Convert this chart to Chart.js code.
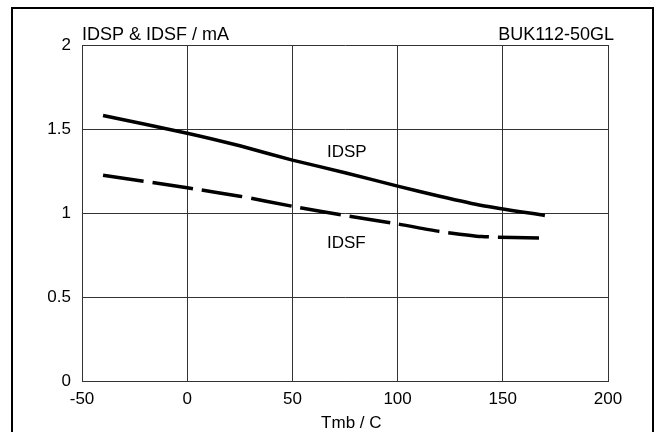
<!DOCTYPE html>
<html>
<head>
<meta charset="utf-8">
<script src="https://cdn.jsdelivr.net/npm/chart.js@4"></script>
<style>
  html, body { margin: 0; padding: 0; background: #fff; }
</style>
</head>
<body>
<canvas id="chart" width="665" height="432"></canvas>
<script>
// temperature points (Tmb / C) and currents (mA)
const temps = [-40, 0, 25, 50, 75, 100, 120, 140, 170];
const idsp  = [1.58, 1.475, 1.40, 1.315, 1.24, 1.16, 1.10, 1.045, 0.985];
const idsf  = [1.225, 1.15, 1.10, 1.04, 0.985, 0.935, 0.89, 0.86, 0.85];
const xTicks = [-50, 0, 50, 100, 150, 200];
const yTicks = [0, 0.5, 1, 1.5, 2];

const FONT = 'Liberation Sans, Arial, sans-serif';

const toPts = (xs, ys) => xs.map((x, i) => ({ x, y: ys[i] }));

// frame, titles and curve labels
const decor = {
  id: 'decor',
  afterDraw(chart) {
    const { ctx, chartArea: a, scales } = chart;
    const sx = scales.x, sy = scales.y;
    ctx.save();
    ctx.strokeStyle = '#000';
    ctx.lineWidth = 2;
    ctx.strokeRect(12, 8, 641, 440);
    ctx.fillStyle = '#000';
    ctx.textBaseline = 'alphabetic';
    ctx.font = '18px ' + FONT;
    ctx.textAlign = 'left';
    ctx.fillText('IDSP & IDSF / mA', a.left, 40);
    ctx.textAlign = 'right';
    ctx.fillText('BUK112-50GL', a.right + 6, 40);
    ctx.font = '17px ' + FONT;
    ctx.textAlign = 'left';
    ctx.fillText('IDSP', sx.getPixelForValue(66.4), sy.getPixelForValue(1.333));
    ctx.fillText('IDSF', sx.getPixelForValue(66.4), sy.getPixelForValue(0.79));
    ctx.textAlign = 'center';
    ctx.fillText('Tmb / C', sx.getPixelForValue(78), 428);
    ctx.restore();
  }
};

new Chart(document.getElementById('chart'), {
  type: 'scatter',
  data: {
    datasets: [
      { label: 'IDSP', data: toPts(temps, idsp), showLine: true, borderColor: '#000',
        borderWidth: 3.5, pointRadius: 0, tension: 0.2, fill: false },
      { label: 'IDSF', data: toPts(temps, idsf), showLine: true, borderColor: '#000',
        borderWidth: 3.5, borderDash: [41, 9], pointRadius: 0, tension: 0.2, fill: false }
    ]
  },
  options: {
    responsive: false,
    animation: false,
    devicePixelRatio: 1,
    layout: { padding: { left: 0, right: 57, top: 45, bottom: 0 } },
    plugins: { legend: { display: false }, tooltip: { enabled: false } },
    scales: {
      x: {
        type: 'linear', min: -50, max: 200,
        afterBuildTicks: s => { s.ticks = xTicks.map(v => ({ value: v })); },
        afterFit: s => { s.height = 51; },
        grid: { color: '#333', lineWidth: 1, drawTicks: false },
        border: { color: '#333', width: 1 },
        ticks: { color: '#000', font: { family: FONT, size: 17 }, padding: 8, maxRotation: 0,
                 callback: v => String(v) }
      },
      y: {
        type: 'linear', min: 0, max: 2,
        afterBuildTicks: s => { s.ticks = yTicks.map(v => ({ value: v })); },
        afterFit: s => { s.width = 82; },
        grid: { color: '#333', lineWidth: 1, drawTicks: false },
        border: { color: '#333', width: 1 },
        ticks: { color: '#000', font: { family: FONT, size: 17 }, padding: 11,
                 callback: v => String(v) }
      }
    }
  },
  plugins: [decor]
});
</script>
</body>
</html>
